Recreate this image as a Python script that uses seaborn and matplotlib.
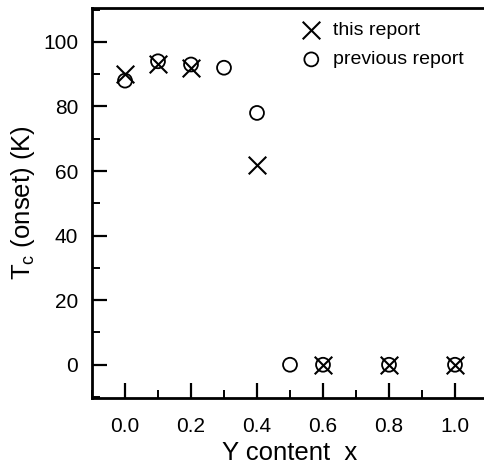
import matplotlib
matplotlib.use("Agg")
import matplotlib.pyplot as plt
import seaborn as sns
import pandas as pd
from matplotlib.ticker import MultipleLocator

sns.set_theme(style="white")
plt.rcParams['font.family'] = ['Liberation Sans', 'DejaVu Sans']
plt.rcParams['mathtext.fontset'] = 'custom'
plt.rcParams['mathtext.rm'] = 'Liberation Sans'
plt.rcParams['mathtext.it'] = 'Liberation Sans'
for k in ['text.color', 'axes.labelcolor', 'xtick.color', 'ytick.color']:
    plt.rcParams[k] = 'black'

this_x = [0.0, 0.1, 0.2, 0.4, 0.6, 0.8, 1.0]
this_tc = [90, 93, 92, 62, 0, 0, 0]
prev_x = [0.0, 0.1, 0.2, 0.3, 0.4, 0.5, 0.6, 0.8, 1.0]
prev_tc = [88, 94, 93, 92, 78, 0, 0, 0, 0]
xticks = [0.0, 0.2, 0.4, 0.6, 0.8, 1.0]
yticks = [0, 20, 40, 60, 80, 100]

df_this = pd.DataFrame({"x": this_x, "tc": this_tc})
df_prev = pd.DataFrame({"x": prev_x, "tc": prev_tc})

fig = plt.figure(figsize=(4.84, 4.68), dpi=100)
ax = fig.add_axes([92/484, 70/468, 396/484, 390/468])

sns.scatterplot(data=df_this, x="x", y="tc", ax=ax, marker="x", s=160,
                color="black", linewidth=1.5, label="this report", zorder=3)
sns.scatterplot(data=df_prev, x="x", y="tc", ax=ax, marker="o", s=100,
                facecolor="none", edgecolor="black", linewidth=1.3,
                label="previous report", zorder=2)

ax.set_xlim(-0.1, 1.1)
ax.set_ylim(-10.3, 110.5)
ax.set_xticks(xticks)
ax.set_xticklabels([f"{v:.1f}" for v in xticks])
ax.set_yticks(yticks)
ax.set_yticklabels([str(v) for v in yticks])
ax.xaxis.set_minor_locator(MultipleLocator(0.1))
ax.yaxis.set_minor_locator(MultipleLocator(10))
ax.tick_params(which="major", direction="in", length=11, width=1.6,
               labelsize=15, pad=10, top=False, right=False, bottom=True, left=True, color="black")
ax.tick_params(axis="x", which="major", pad=14)
ax.tick_params(which="minor", direction="in", length=6, width=1.4,
               top=False, right=False, bottom=True, left=True, color="black")
for sp in ax.spines.values():
    sp.set_linewidth(2)
    sp.set_color("black")
ax.spines['right'].set_visible(False)

ax.set_xlabel("Y content  x", fontsize=18.5, labelpad=3)
ax.set_ylabel("T$_\\mathrm{c}$ (onset) (K)", fontsize=18.5, labelpad=4)

leg = ax.legend(loc="upper left", bbox_to_anchor=(0.49, 1.0), frameon=False,
                fontsize=14, handletextpad=0.5, labelspacing=0.6,
                borderaxespad=0.3, handlelength=1.2)

fig.savefig("out.png", dpi=100)
